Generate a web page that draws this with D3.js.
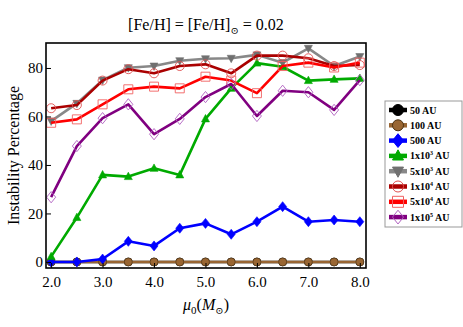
<!DOCTYPE html>
<html>
<head>
<meta charset="utf-8">
<script src="https://cdn.jsdelivr.net/npm/d3@7"></script>
<style>
  body { margin: 0; background: #fff; }
  text { font-family: "Liberation Serif", "DejaVu Serif", serif; }
</style>
</head>
<body>
<script>
// data
var masses = [2.0, 2.5, 3.0, 3.5, 4.0, 4.5, 5.0, 5.5, 6.0, 6.5, 7.0, 7.5, 8.0];
var au50   = [0, 0, 0, 0, 0, 0, 0, 0, 0, 0, 0, 0, 0];
var au100  = [0, 0, 0, 0, 0, 0, 0, 0, 0, 0, 0, 0, 0];
var au500  = [0, 0, 1.2, 8.5, 6.6, 13.9, 15.9, 11.4, 16.6, 22.8, 16.6, 17.3, 16.6];
var au1e3  = [2.2, 18.3, 35.9, 35.2, 38.6, 35.9, 59, 71.6, 82, 80.5, 74.8, 75.3, 75.7];
var au5e3  = [58.1, 65.4, 75, 80.1, 80.8, 83, 83.8, 84, 85.4, 82.2, 88.1, 80.8, 84.7];
var au1e4  = [63.4, 64.7, 74.8, 79.5, 77.8, 80.8, 81.5, 77.8, 85.1, 85.1, 84, 80.8, 81.2];
var au5e4  = [57.4, 58.8, 65, 71.2, 72.3, 71.6, 76.4, 74.8, 69.6, 80.8, 82.2, 80.2, 82.2];
var au1e5  = [26.7, 47.8, 59.3, 65, 52.7, 59, 68, 73.4, 60.2, 70.6, 70, 62.7, 75];
var xTicks = [2, 3, 4, 5, 6, 7, 8];
var yTicks = [0, 20, 40, 60, 80];

var series = [
  {name: "50 AU", sup: null, values: au50, line: "#000000", mark: "#000000", edge: "#000", shape: "circle", fill: true},
  {name: "100 AU", sup: null, values: au100, line: "#996633", mark: "#996633", edge: "#4a3010", shape: "circle", fill: true},
  {name: "500 AU", sup: null, values: au500, line: "#0000ff", mark: "#0000ff", edge: "#0000ff", shape: "diamond", fill: true},
  {name: "1x10", sup: "3", values: au1e3, line: "#00aa00", mark: "#00aa00", edge: "#00aa00", shape: "tri", fill: true},
  {name: "5x10", sup: "3", values: au5e3, line: "#888888", mark: "#707070", edge: "#707070", shape: "tridown", fill: true},
  {name: "1x10", sup: "4", values: au1e4, line: "#aa0000", mark: "#e05050", edge: "#e05050", shape: "circle", fill: false},
  {name: "5x10", sup: "4", values: au5e4, line: "#ff0000", mark: "#f06060", edge: "#f06060", shape: "square", fill: false},
  {name: "1x10", sup: "5", values: au1e5, line: "#800080", mark: "#b060c0", edge: "#b060c0", shape: "diamond", fill: false}
];

var W = 463, H = 327;
var pLeft = 46, pRight = 366, pTop = 43, pBottom = 268;

var svg = d3.select("body").append("svg")
  .attr("width", W).attr("height", H);

var x = d3.scaleLinear().domain([1.9, 8.12]).range([pLeft, pRight]);
var y = d3.scaleLinear().domain([-2.5, 90.3]).range([pBottom, pTop]);

// markers
function markPath(shape, s) {
  if (shape == "circle") return d3.symbol(d3.symbolCircle, s * s * Math.PI)();
  if (shape == "square") return d3.symbol(d3.symbolSquare, 4 * s * s)();
  if (shape == "diamond") return "M0," + (-s * 1.25) + "L" + s + ",0L0," + (s * 1.25) + "L" + (-s) + ",0Z";
  if (shape == "tri") return "M0," + (-s * 1.1) + "L" + s + "," + (s * 0.75) + "L" + (-s) + "," + (s * 0.75) + "Z";
  if (shape == "tridown") return "M0," + (s * 1.1) + "L" + s + "," + (-s * 0.75) + "L" + (-s) + "," + (-s * 0.75) + "Z";
}

var plot = svg.append("g");
var line = d3.line().x(function(d) { return x(d[0]); }).y(function(d) { return y(d[1]); });

series.forEach(function(s) {
  var pts = masses.map(function(m, i) { return [m, s.values[i]]; });
  var g = plot.append("g");
  g.append("path").datum(pts)
    .attr("d", line)
    .attr("fill", "none")
    .attr("stroke", s.line)
    .attr("stroke-width", 2.6)
    .attr("stroke-linejoin", "round");
  var r = s.fill ? 4 : 4.5;
  g.selectAll("path.m").data(pts).enter().append("path")
    .attr("class", "m")
    .attr("transform", function(d) { return "translate(" + x(d[0]) + "," + y(d[1]) + ")"; })
    .attr("d", markPath(s.shape, r))
    .attr("fill", s.fill ? s.mark : "none")
    .attr("stroke", s.edge)
    .attr("stroke-width", s.fill ? 0.6 : 0.9);
});

// frame
svg.append("rect")
  .attr("x", pLeft).attr("y", pTop)
  .attr("width", pRight - pLeft).attr("height", pBottom - pTop)
  .attr("fill", "none").attr("stroke", "#000").attr("stroke-width", 1.6);

// axes with inward ticks
var xAxis = svg.append("g").attr("transform", "translate(0," + pBottom + ")")
  .call(d3.axisBottom(x).tickValues(xTicks).tickSize(-5).tickPadding(8).tickFormat(d3.format(".1f")));
var yAxis = svg.append("g").attr("transform", "translate(" + pLeft + ",0)")
  .call(d3.axisLeft(y).tickValues(yTicks).tickSize(-5).tickPadding(3).tickFormat(d3.format("d")));
[xAxis, yAxis].forEach(function(a) {
  a.select(".domain").remove();
  a.selectAll("line").attr("stroke", "#000").attr("stroke-width", 1);
  a.selectAll("text").attr("font-size", 15).attr("fill", "#000")
    .attr("font-family", "'Liberation Serif', serif");
});

// title
var title = svg.append("text").attr("x", 206).attr("y", 30)
  .attr("text-anchor", "middle").attr("font-size", 16);
title.append("tspan").text("[Fe/H] = [Fe/H]");
title.append("tspan").attr("font-size", 10).attr("dy", 4).text("\u2299");
title.append("tspan").attr("dy", -4).text(" = 0.02");

// axis labels
svg.append("text")
  .attr("transform", "translate(19," + ((pTop + pBottom) / 2) + ") rotate(-90)")
  .attr("text-anchor", "middle").attr("font-size", 16)
  .text("Instability Percentage");

var xl = svg.append("text").attr("x", 206).attr("y", 310)
  .attr("text-anchor", "middle").attr("font-size", 16);
xl.append("tspan").attr("font-style", "italic").text("\u03bc");
xl.append("tspan").attr("font-size", 11).attr("dy", 4).text("0");
xl.append("tspan").attr("dy", -4).text("(");
xl.append("tspan").attr("font-style", "italic").text("M");
xl.append("tspan").attr("font-size", 10).attr("dy", 4).text("\u2299");
xl.append("tspan").attr("dy", -4).text(")");

// legend
var lgX = 385, lgY = 101, lgStep = 15.3;
svg.append("rect")
  .attr("x", lgX).attr("y", lgY)
  .attr("width", 77).attr("height", 126)
  .attr("fill", "#fff").attr("stroke", "#999").attr("stroke-width", 1);

var items = svg.selectAll("g.leg").data(series).enter().append("g")
  .attr("class", "leg")
  .attr("transform", function(d, i) { return "translate(" + (lgX + 4) + "," + (lgY + 9 + i * lgStep) + ")"; });
items.append("line")
  .attr("x1", 0).attr("x2", 18)
  .attr("stroke", function(d) { return d.line; })
  .attr("stroke-width", 4.5);
items.append("path")
  .attr("transform", "translate(9,0)")
  .attr("d", function(d) { return markPath(d.shape, 5.5); })
  .attr("fill", function(d) { return d.fill ? d.mark : "none"; })
  .attr("stroke", function(d) { return d.edge; })
  .attr("stroke-width", 1);
var lt = items.append("text")
  .attr("x", 21).attr("y", 3.5)
  .attr("font-size", 10).attr("font-weight", "bold");
lt.append("tspan").text(function(d) { return d.name; });
lt.filter(function(d) { return d.sup; }).each(function(d) {
  var t = d3.select(this);
  t.append("tspan").attr("font-size", 6).attr("dy", -4).text(d.sup);
  t.append("tspan").attr("dy", 4).text(" AU");
});
</script>
</body>
</html>
